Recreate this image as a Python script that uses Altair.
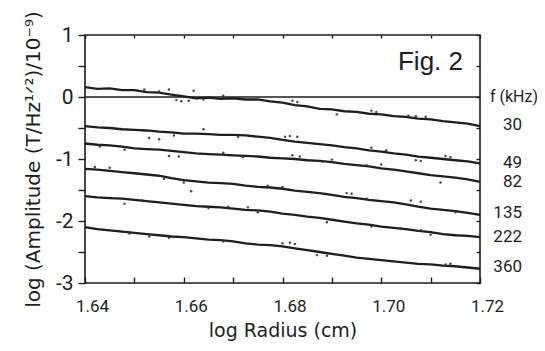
import altair as alt
import pandas as pd

# ---- data ----
X = [1.6400, 1.6425, 1.6450, 1.6475, 1.6500, 1.6525, 1.6550, 1.6575, 1.6600, 1.6625, 1.6650,
     1.6675, 1.6700, 1.6725, 1.6750, 1.6775, 1.6800, 1.6825, 1.6850, 1.6875, 1.6900, 1.6925,
     1.6950, 1.6975, 1.7000, 1.7025, 1.7050, 1.7075, 1.7100, 1.7125, 1.7150, 1.7175, 1.7200]

FREQS = ["30", "49", "82", "135", "222", "360"]

S30 = [0.16, 0.13, 0.14, 0.11, 0.11, 0.08, 0.07, 0.04, 0.01, -0.02, -0.01, -0.03, -0.02, -0.04,
       -0.04, -0.07, -0.09, -0.13, -0.15, -0.19, -0.20, -0.23, -0.24, -0.27, -0.28, -0.31, -0.32,
       -0.35, -0.36, -0.39, -0.41, -0.43, -0.47]
S49 = [-0.47, -0.49, -0.50, -0.52, -0.53, -0.54, -0.56, -0.57, -0.59, -0.59, -0.60, -0.61, -0.61,
       -0.62, -0.64, -0.66, -0.69, -0.72, -0.74, -0.76, -0.78, -0.81, -0.83, -0.86, -0.88, -0.91,
       -0.93, -0.96, -0.98, -1.00, -1.02, -1.04, -1.07]
S82 = [-0.75, -0.77, -0.78, -0.80, -0.83, -0.84, -0.85, -0.87, -0.89, -0.91, -0.92, -0.93, -0.94,
       -0.95, -0.96, -0.98, -0.99, -1.00, -1.02, -1.03, -1.05, -1.08, -1.10, -1.12, -1.15, -1.17,
       -1.20, -1.23, -1.26, -1.28, -1.30, -1.33, -1.37]
S135 = [-1.16, -1.17, -1.19, -1.21, -1.23, -1.25, -1.27, -1.31, -1.34, -1.36, -1.38, -1.39, -1.40,
        -1.43, -1.45, -1.46, -1.48, -1.51, -1.53, -1.55, -1.58, -1.61, -1.63, -1.66, -1.68, -1.70,
        -1.73, -1.77, -1.80, -1.82, -1.84, -1.87, -1.90]
S222 = [-1.60, -1.62, -1.63, -1.64, -1.66, -1.68, -1.70, -1.72, -1.74, -1.76, -1.77, -1.78, -1.80,
        -1.82, -1.83, -1.85, -1.88, -1.90, -1.93, -1.95, -1.98, -2.01, -2.04, -2.06, -2.09, -2.11,
        -2.13, -2.16, -2.18, -2.21, -2.23, -2.24, -2.26]
S360 = [-2.10, -2.13, -2.15, -2.17, -2.19, -2.21, -2.23, -2.25, -2.26, -2.28, -2.30, -2.31, -2.33,
        -2.36, -2.38, -2.39, -2.41, -2.44, -2.47, -2.50, -2.53, -2.56, -2.59, -2.61, -2.63, -2.65,
        -2.67, -2.69, -2.70, -2.72, -2.73, -2.75, -2.77]

# scattered raw points lying off the main traces
DOT_X = [1.6585, 1.6595, 1.6610, 1.6640, 1.6520, 1.6550, 1.6570, 1.6620, 1.6680, 1.6820, 1.6830,
         1.6910, 1.6980, 1.6990, 1.7055, 1.7070, 1.7090,
         1.6530, 1.6550, 1.6580, 1.6640, 1.6710, 1.6805, 1.6815, 1.6830, 1.6980, 1.7010, 1.7070,
         1.7080, 1.7130, 1.7140,
         1.6430, 1.6480, 1.6570, 1.6590, 1.6680, 1.6720, 1.6820, 1.6835, 1.6880, 1.6900, 1.6970,
         1.7000, 1.7120,
         1.6420, 1.6450, 1.6560, 1.6600, 1.6770, 1.6800, 1.6930, 1.6940, 1.6970, 1.7060, 1.7080,
         1.7150, 1.6615,
         1.6480, 1.6515, 1.6630, 1.6650, 1.6690, 1.6730, 1.6750, 1.6890, 1.6980, 1.7040, 1.7080,
         1.7100,
         1.6490, 1.6530, 1.6570, 1.6680, 1.6800, 1.6815, 1.6825, 1.6870, 1.6890, 1.7130, 1.7140]
DOT_Y = [-0.05, -0.07, -0.06, -0.04, 0.12, 0.09, 0.12, 0.10, 0.02, -0.06, -0.08,
         -0.28, -0.22, -0.24, -0.30, -0.31, -0.32,
         -0.66, -0.68, -0.62, -0.52, -0.64, -0.64, -0.63, -0.64, -0.82, -0.86, -1.02,
         -1.03, -0.95, -0.97,
         -0.80, -0.85, -0.95, -0.96, -0.90, -0.97, -0.94, -0.96, -1.04, -1.01, -1.10,
         -1.09, -1.38,
         -1.13, -1.14, -1.32, -1.38, -1.43, -1.45, -1.55, -1.56, -1.64, -1.67, -1.69,
         -1.86, -1.52,
         -1.72, -1.67, -1.76, -1.79, -1.77, -1.78, -1.86, -2.02, -2.09, -2.12, -2.15,
         -2.22,
         -2.20, -2.25, -2.27, -2.33, -2.36, -2.35, -2.37, -2.55, -2.56, -2.70, -2.69]

LABEL_Y = [-0.45, -1.06, -1.37, -1.87, -2.26, -2.74]

X_TICKS = [1.64, 1.65, 1.66, 1.67, 1.68, 1.69, 1.70, 1.71, 1.72]
Y_TICKS = [-3, -2.5, -2, -1.5, -1, -0.5, 0, 0.5, 1]

# ---- tables ----
rows = []
for f, ys in zip(FREQS, [S30, S49, S82, S135, S222, S360]):
    for xv, yv in zip(X, ys):
        rows.append({"x": xv, "y": yv, "f": f})
lines_df = pd.DataFrame(rows)
dots_df = pd.DataFrame({"x": DOT_X, "y": DOT_Y})
labels_df = pd.DataFrame({"f": FREQS, "y": LABEL_Y})
head_df = pd.DataFrame({"t": ["f (kHz)"], "y": [0]})
fig_df = pd.DataFrame({"t": ["Fig. 2"], "y": [0.435]})
zero_df = pd.DataFrame({"x": [1.64], "x2": [1.72], "y": [0]})

INK = "#1e1e1e"
xs = alt.Scale(domain=[1.64, 1.72], nice=False, zero=False)
ys = alt.Scale(domain=[-3, 1], nice=False, zero=False)

x_main_axis = alt.Axis(
    orient="bottom", values=X_TICKS, grid=False, domain=False, ticks=False, tickSize=0,
    labelExpr="(round(datum.value*100) % 2 == 0) ? format(datum.value, '.2f') : ''",
    labelFont="Roboto", labelFontSize=17, labelColor=INK, labelPadding=15, labelOffset=7,
    labelFlush=False, labelOverlap=False,
    title="log Radius (cm)", titleFont="DejaVu Sans", titleFontSize=19,
    titleFontWeight="normal", titleColor=INK, titlePadding=7,
)
y_main_axis = alt.Axis(
    orient="left", values=Y_TICKS, grid=False, domain=False, tickSize=7, tickColor=INK,
    tickWidth=1.4,
    labelExpr="(datum.value % 1 == 0) ? (datum.value < 0 ? '-' + (-datum.value) : '' + datum.value) : ''",
    labelFont="Roboto", labelFontSize=21, labelColor=INK, labelPadding=5,
    labelFlush=False, labelOverlap=False,
    title="log (Amplitude (T/Hz¹ᐟ²)/10⁻⁹)", titleFont="DejaVu Sans", titleFontSize=20,
    titleFontWeight="normal", titleColor=INK, titlePadding=12,
)
x_in_bottom = alt.Axis(orient="top", offset=-248, values=X_TICKS, grid=False, domain=False,
                       labels=False, tickSize=6, tickColor=INK, tickWidth=1.4, title="")
y_in_right = alt.Axis(orient="left", offset=-395, values=Y_TICKS, grid=False, domain=False,
                      labels=False, tickSize=4, tickColor=INK, tickWidth=1.4, title="")
x_in_top = alt.Axis(orient="bottom", offset=-248, values=X_TICKS, grid=False, domain=False,
                    labels=False, tickSize=3, tickColor=INK, tickWidth=1.4, title="")

lines = alt.Chart(lines_df).mark_line(color=INK, strokeWidth=2.3).encode(
    x=alt.X("x:Q", scale=xs, axis=x_main_axis),
    y=alt.Y("y:Q", scale=ys, axis=y_main_axis),
    detail="f:N",
)

dots = alt.Chart(dots_df).mark_circle(color="#333333", size=6, opacity=0.9).encode(
    x=alt.X("x:Q", scale=xs, axis=x_in_bottom),
    y=alt.Y("y:Q", scale=ys, axis=y_in_right),
)

zero = alt.Chart(zero_df).mark_rule(color=INK, strokeWidth=1.5).encode(
    x=alt.X("x:Q", scale=xs, axis=x_in_top),
    x2="x2:Q",
    y=alt.Y("y:Q", scale=ys, axis=None),
)

labels = alt.Chart(labels_df).mark_text(
    align="right", baseline="middle", font="Roboto", fontSize=17, color=INK, dx=42
).encode(
    x=alt.XDatum(1.72, scale=xs, axis=None),
    y=alt.Y("y:Q", scale=ys, axis=None),
    text="f:N",
)

head = alt.Chart(head_df).mark_text(
    align="left", baseline="middle", font="Roboto", fontSize=16, color=INK, dx=10
).encode(
    x=alt.XDatum(1.72, scale=xs, axis=None),
    y=alt.Y("y:Q", scale=ys, axis=None),
    text="t:N",
)

fig = alt.Chart(fig_df).mark_text(
    align="right", baseline="alphabetic", font="Liberation Sans", fontSize=26, color=INK, dx=-17
).encode(
    x=alt.XDatum(1.72, scale=xs, axis=None),
    y=alt.Y("y:Q", scale=ys, axis=None),
    text="t:N",
)

chart = alt.layer(lines, dots, zero, labels, head, fig).resolve_axis(
    x="independent", y="independent"
).properties(
    width=395, height=248,
    autosize=alt.AutoSizeParams(type="none"),
    padding={"left": 77, "top": 27, "right": 57, "bottom": 60},
    background="white",
).configure_view(stroke=INK, strokeWidth=1.6)

chart.save("out.html", embed_options={"renderer": "svg", "actions": False})
